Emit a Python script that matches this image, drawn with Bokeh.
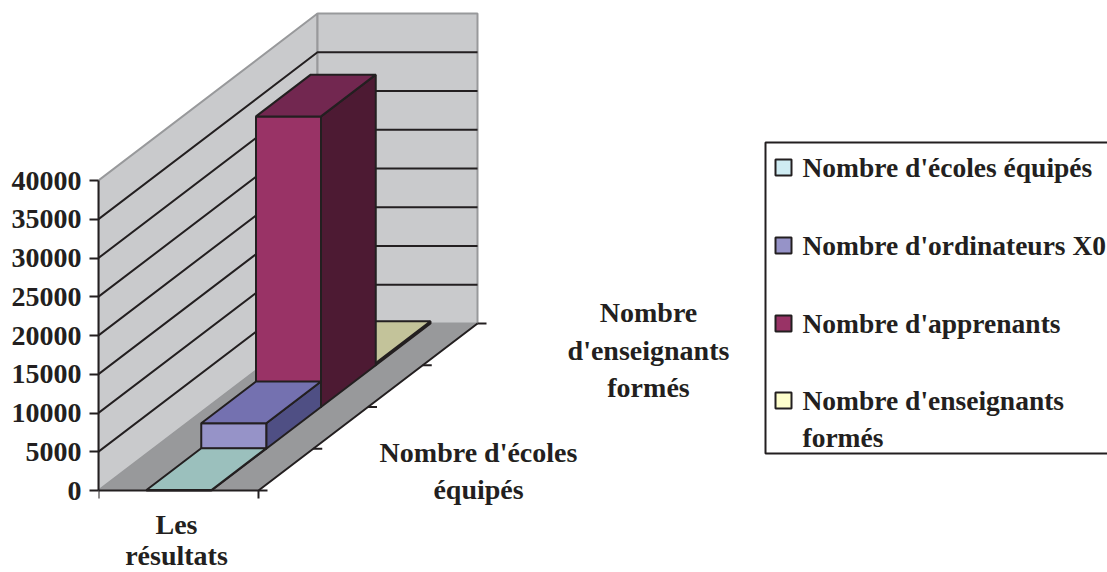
from bokeh.plotting import figure
from bokeh.models import Range1d, LinearAxis, FixedTicker
from bokeh.core.properties import value
from bokeh.embed import file_html
from bokeh.resources import INLINE

# ---- data
series_names = ["Nombre d'écoles équipés", "Nombre d'ordinateurs X0", "Nombre d'apprenants", "Nombre d'enseignants formés"]
series_values = [60, 3300, 37500, 300]
y_ticks = [0, 5000, 10000, 15000, 20000, 25000, 30000, 35000, 40000]
category_label = ["Les", "résultats"]
depth_label_front = ["Nombre d'écoles", "équipés"]
depth_label_back = ["Nombre", "d'enseignants", "formés"]
legend_lines = [["Nombre d'écoles équipés"], ["Nombre d'ordinateurs X0"], ["Nombre d'apprenants"], ["Nombre d'enseignants", "formés"]]
front_colors = ["#cfecf3", "#9693c8", "#993366", "#ffffcc"]
top_colors = ["#9bc0bd", "#7471b0", "#722750", "#c3c39a"]
side_colors = ["#6f8f92", "#4f4f84", "#4d1a33", "#8f8f6c"]
legend_colors = ["#cfecf3", "#9693c8", "#993366", "#ffffcc"]

INK = "#231f20"
WALL = "#c9cacc"
FLOOR = "#98999b"
FONT = value("Liberation Serif")
FS = "28px"
LEGEND_FS = "27.5px"

# ---- oblique projection (x in pixels of the page, y in value units)
PX = 40000 / 310          # value units per pixel
ORIGIN_X, ORIGIN_Y, W = 98, 490, 160
DX, DY_PX = 219 / 4, 167 / 4
BAR_L, BAR_W = 48, 65

def px(x, d=0):
    return ORIGIN_X + x + d * DX
def vy(v, d=0):
    return v + d * DY_PX * PX
def sy(y):               # a screen row expressed in value units
    return (ORIGIN_Y - y) * PX

p = figure(width=1107, height=572, output_backend="svg", toolbar_location=None,
           x_range=Range1d(98, 1107), y_range=Range1d(sy(572), sy(0)),
           x_axis_type=None, y_axis_type=None,
           min_border_left=98, min_border_right=0, min_border_top=0, min_border_bottom=0)
p.outline_line_color = None
p.xgrid.visible = False
p.ygrid.visible = False
p.background_fill_color = "white"

yaxis = LinearAxis(ticker=FixedTicker(ticks=y_ticks), bounds=(0, 40000))
yaxis.axis_line_color = INK
yaxis.axis_line_width = 2
yaxis.major_tick_line_color = INK
yaxis.major_tick_line_width = 2
yaxis.major_tick_out = 9
yaxis.major_tick_in = 0
yaxis.minor_tick_line_color = None
yaxis.major_label_text_font = "Liberation Serif"
yaxis.major_label_text_font_style = "bold"
yaxis.major_label_text_font_size = FS
yaxis.major_label_text_color = INK
yaxis.major_label_standoff = 8
p.add_layout(yaxis, "left")

top = y_ticks[-1]
# walls
p.patch([px(0), px(0, 4), px(0, 4), px(0)], [vy(0), vy(0, 4), vy(top, 4), vy(top)],
        fill_color=WALL, line_color=FLOOR, line_width=2)
p.patch([px(0, 4), px(W, 4), px(W, 4), px(0, 4)], [vy(0, 4), vy(0, 4), vy(top, 4), vy(top, 4)],
        fill_color=WALL, line_color=FLOOR, line_width=2)
# floor
p.patch([px(0), px(W), px(W, 4), px(0, 4)], [vy(0), vy(0), vy(0, 4), vy(0, 4)],
        fill_color=FLOOR, line_color=FLOOR, line_width=1)
# gridlines
for t in y_ticks[1:-1]:
    p.line([px(0), px(0, 4), px(W, 4)], [vy(t), vy(t, 4), vy(t, 4)], line_color=INK, line_width=2)
# floor edges and ticks
p.line([px(0), px(W), px(W, 4)], [vy(0), vy(0), vy(0, 4)], line_color=INK, line_width=2)
for d in range(5):
    p.line([px(W, d), px(W, d) + 9], [vy(0, d), vy(0, d)], line_color=INK, line_width=2)
for x in (0, W):
    p.line([px(x), px(x)], [vy(0), sy(ORIGIN_Y + 8)], line_color=INK, line_width=2)

# bars, from the back to the front
for i in reversed(range(len(series_values))):
    v = series_values[i]
    xl, xr = BAR_L, BAR_L + BAR_W
    p.patch([px(xr, i), px(xr, i + 1), px(xr, i + 1), px(xr, i)],
            [vy(0, i), vy(0, i + 1), vy(v, i + 1), vy(v, i)],
            fill_color=side_colors[i], line_color=INK, line_width=2)
    p.patch([px(xl, i), px(xr, i), px(xr, i), px(xl, i)],
            [vy(0, i), vy(0, i), vy(v, i), vy(v, i)],
            fill_color=front_colors[i], line_color=INK, line_width=2)
    p.patch([px(xl, i), px(xr, i), px(xr, i + 1), px(xl, i + 1)],
            [vy(v, i), vy(v, i), vy(v, i + 1), vy(v, i + 1)],
            fill_color=top_colors[i], line_color=INK, line_width=2)

def label(x, y, s, align="center", size=FS):
    p.text([x], [sy(y)], text=[s], text_font=FONT, text_font_style="bold", text_font_size=size,
           text_color=INK, text_align=align, text_baseline="middle")

for y, s in zip((524, 555), category_label):
    label(176, y, s)
for y, s in zip((452, 489), depth_label_front):
    label(478, y, s)
for y, s in zip((312, 350, 387), depth_label_back):
    label(648, y, s)

# legend
LL, LT, LB, LR = 765, 142, 453, 1110
p.line([LR, LL, LL, LR], [sy(LT), sy(LT), sy(LB), sy(LB)], line_color=INK, line_width=2)
rows = [167, 245, 323, 400]
for color, lines, y in zip(legend_colors, legend_lines, rows):
    p.patch([775, 791, 791, 775], [sy(y - 8), sy(y - 8), sy(y + 8), sy(y + 8)],
            fill_color=color, line_color=INK, line_width=2)
    for k, s in enumerate(lines):
        label(802, y + k * 37, s, "left", LEGEND_FS)

open("out.html", "w").write(file_html(p, INLINE))
